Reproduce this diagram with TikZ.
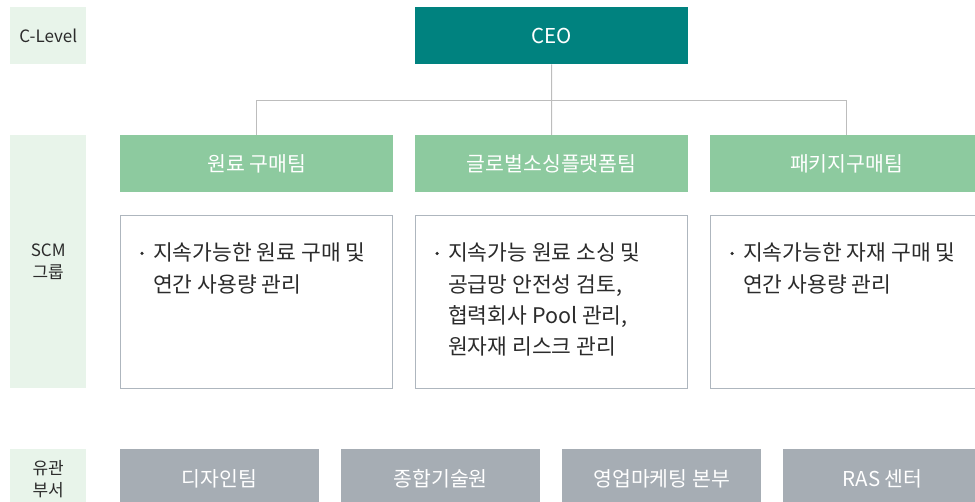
\documentclass[tikz,border=0pt]{standalone}
\usepackage{fontspec}
\setmainfont{Noto Sans CJK KR}
\usepackage{xcolor}
\usepackage{tikz}

\definecolor{ceoteal}{HTML}{00827F}
\definecolor{teamgreen}{HTML}{8DCA9F}
\definecolor{levelbg}{HTML}{E8F4EA}
\definecolor{deptgray}{HTML}{A6ADB4}
\definecolor{boxline}{HTML}{AEB6BE}
\definecolor{linkgray}{HTML}{BDBDBD}
\definecolor{txtdark}{HTML}{2B2B2B}

\begin{document}
\begin{tikzpicture}[x=1pt, y=-1pt,
    level/.style={rectangle, fill=levelbg, anchor=north west, inner sep=0pt, minimum width=76pt, align=center, text=txtdark, font=\fontsize{17}{22}\selectfont},
    head/.style={rectangle, fill=teamgreen, anchor=north west, inner sep=0pt, minimum width=273pt, minimum height=57pt, text=white, font=\fontsize{20.5}{22}\selectfont},
    task/.style={rectangle, draw=boxline, line width=0.8pt, fill=white, anchor=north west, inner sep=0pt, minimum width=272pt, minimum height=173pt},
    dept/.style={rectangle, fill=deptgray, anchor=north west, inner sep=0pt, minimum width=199pt, minimum height=60pt, text=white, font=\fontsize{20.5}{22}\selectfont},
    note/.style={anchor=north west, inner sep=0pt, align=left, text=txtdark, font=\fontsize{21.5}{31.3}\selectfont},
    dot/.style={circle, fill=txtdark, inner sep=0pt, minimum size=3.5pt},
    link/.style={draw=linkgray, line width=1pt}
]
    \useasboundingbox (0,0) rectangle (975,502);

    % row labels
    \node[level, minimum height=57pt] (lvc) at (10,7) {C-Level};
    \node[level, minimum height=253pt] (lvs) at (10,135) {SCM\\그룹};
    \node[level, minimum height=60pt] (lvr) at (10,449) {유관\\부서};

    % CEO and teams
    \node[rectangle, fill=ceoteal, anchor=north west, inner sep=0pt, minimum width=273pt, minimum height=57pt, text=white, font=\fontsize{20.5}{22}\selectfont] (ceo) at (415,7) {CEO};
    \node[head] (raw) at (120,135) {원료 구매팀};
    \node[head] (glb) at (415,135) {글로벌소싱플랫폼팀};
    \node[head] (pkg) at (710,135) {패키지구매팀};

    \coordinate (hub) at (551.5,101);
    \draw[link] (ceo.south) -- (hub);
    \draw[link] (hub) -| (raw.north);
    \draw[link] (hub) -- (glb.north);
    \draw[link] (hub) -| (pkg.north);

    % task boxes
    \node[task] (rawtask) at (120,215) {};
    \node[task] (glbtask) at (415,215) {};
    \node[task] (pkgtask) at (710,215) {};

    \node[dot] (rawdot) at (142,253.5) {};
    \node[note] (rawnote) at (153,243) {지속가능한 원료 구매 및\\연간 사용량 관리};
    \node[dot] (glbdot) at (437,253.5) {};
    \node[note] (glbnote) at (448,243) {지속가능 원료 소싱 및\\공급망 안전성 검토,\\협력회사 Pool 관리,\\원자재 리스크 관리};
    \node[dot] (pkgdot) at (732,253.5) {};
    \node[note] (pkgnote) at (743,243) {지속가능한 자재 구매 및\\연간 사용량 관리};

    % related departments
    \node[dept] (dsn) at (120,449) {디자인팀};
    \node[dept] (tech) at (341,449) {종합기술원};
    \node[dept] (sales) at (562,449) {영업마케팅 본부};
    \node[dept] (ras) at (783,449) {RAS 센터};
\end{tikzpicture}
\end{document}
